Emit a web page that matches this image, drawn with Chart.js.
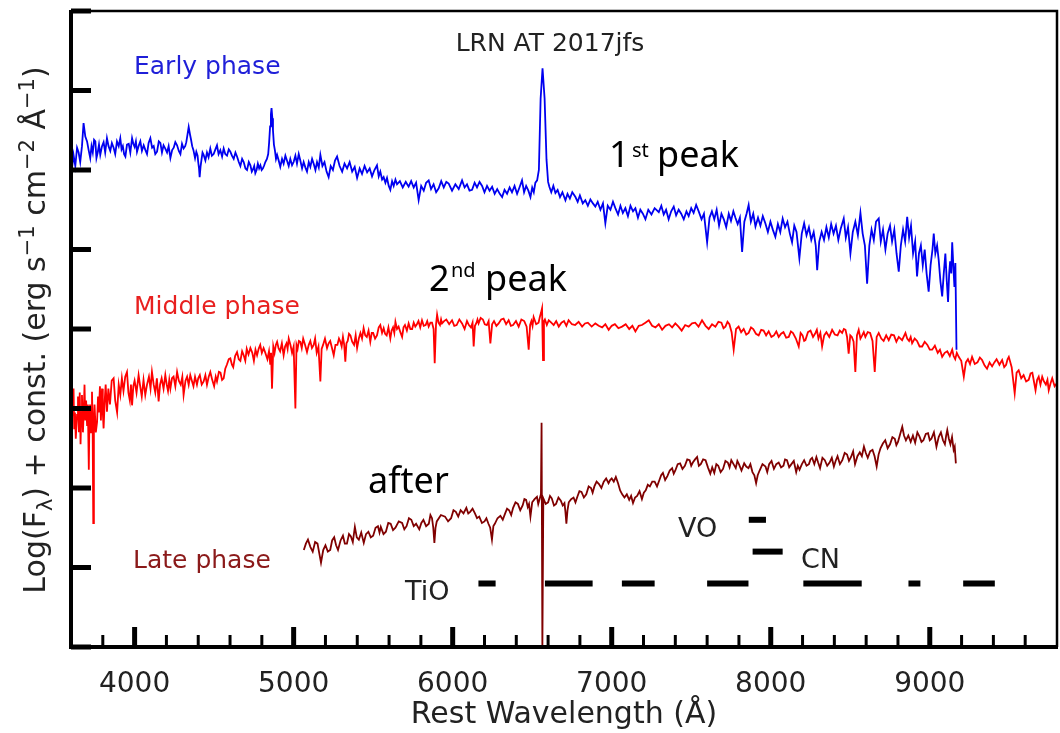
<!DOCTYPE html>
<html>
<head>
<meta charset="utf-8">
<script src="https://cdn.jsdelivr.net/npm/chart.js@4.4.1/dist/chart.umd.min.js"></script>
<style>
html,body{margin:0;padding:0;background:#fff;}
#wrap{width:1060px;height:733px;}
</style>
</head>
<body>
<div id="wrap"><canvas id="c" width="1060" height="733"></canvas></div>
<script>
// ---- data (wavelength in Å, log flux + const) ----
const earlySpectrum = [
[3600,6.15],[3608,6.05],[3616,6.19],[3627,6.05],[3638,6.28],[3648,6.22],[3658,6.10],[3669,6.30],[3679,6.59],[3690,6.42],[3701,6.36],
[3711,6.25],[3721,6.15],[3729,6.30],[3737,6.22],[3745,6.38],[3753,6.36],[3760,6.15],[3768,6.22],[3776,6.32],[3784,6.19],[3795,6.30],[3805,6.35],[3815,6.22],[3826,6.40],[3836,6.30],[3847,6.24],[3857,6.34],[3868,6.28],
[3878,6.20],[3889,6.36],[3900,6.30],[3910,6.40],[3918,6.26],[3926,6.30],[3934,6.20],[3942,6.17],[3952,6.32],[3963,6.33],[3973,6.22],[3984,6.40],[3992,6.33],[4000,6.29],[4008,6.36],[4015,6.23],[4025,6.30],[4036,6.36],[4046,6.24],[4057,6.31],
[4068,6.25],[4078,6.20],[4088,6.34],[4099,6.40],[4110,6.28],[4120,6.30],[4130,6.20],[4141,6.23],[4152,6.36],[4162,6.34],[4172,6.22],[4182,6.31],[4193,6.27],[4204,6.22],[4214,6.30],[4225,6.15],[4236,6.25],[4246,6.28],[4256,6.35],[4267,6.31],
[4278,6.24],[4288,6.20],[4298,6.33],[4308,6.27],[4318,6.30],[4325,6.35],[4333,6.45],[4340,6.54],[4348,6.45],[4355,6.38],[4362,6.30],[4370,6.25],[4380,6.15],[4388,6.23],[4396,6.18],[4400,6.10],[4405,6.02],[4409,5.91],[4415,6.05],[4420,6.12],
[4427,6.22],[4434,6.19],[4445,6.12],[4455,6.22],[4465,6.16],[4476,6.27],[4486,6.18],[4497,6.20],[4508,6.26],[4518,6.31],[4528,6.20],[4539,6.25],[4550,6.17],[4560,6.27],[4570,6.20],[4581,6.18],[4592,6.26],[4602,6.23],[4612,6.18],[4623,6.14],
[4634,6.22],[4644,6.17],[4655,6.10],[4665,6.05],[4676,6.14],[4686,6.10],[4697,6.02],[4707,6.00],[4718,6.10],[4728,6.06],[4737,5.98],[4745,6.01],[4752,6.05],[4759,5.96],[4767,6.00],[4775,6.08],[4783,6.02],[4791,6.06],[4799,6.00],[4807,6.02],
[4815,6.06],[4822,6.10],[4832,6.14],[4840,6.20],[4846,6.35],[4852,6.55],[4857,6.70],[4861,6.78],[4866,6.65],[4870,6.50],[4876,6.32],[4882,6.25],[4889,6.14],[4896,6.19],[4906,6.12],[4916,6.04],[4927,6.14],[4937,6.08],[4948,6.18],[4958,6.12],
[4969,6.05],[4979,6.14],[4990,6.06],[5000,6.10],[5011,6.18],[5021,6.08],[5032,6.20],[5042,6.12],[5053,6.02],[5063,6.10],[5074,6.03],[5084,5.98],[5095,6.10],[5105,6.04],[5116,6.14],[5126,6.08],[5137,6.00],[5147,6.10],[5158,6.03],[5168,6.19],
[5181,6.05],[5194,6.10],[5207,5.98],[5220,5.91],[5233,6.05],[5247,6.00],[5260,6.12],[5273,6.17],[5289,6.05],[5305,5.98],[5320,6.08],[5336,6.02],[5352,6.10],[5368,5.98],[5384,6.04],[5399,5.90],[5415,6.02],[5430,5.95],[5446,6.05],[5462,5.97],
[5478,6.02],[5493,5.92],[5508,6.00],[5524,6.06],[5535,5.92],[5545,5.98],[5556,5.88],[5566,5.91],[5577,5.84],[5587,5.90],[5598,5.80],[5608,5.75],[5619,5.86],[5629,5.80],[5640,5.88],[5650,5.82],[5668,5.86],[5686,5.78],[5705,5.85],[5723,5.79],
[5739,5.86],[5755,5.78],[5770,5.84],[5786,5.62],[5802,5.80],[5818,5.74],[5833,5.84],[5849,5.87],[5864,5.76],[5880,5.82],[5896,5.72],[5912,5.77],[5928,5.86],[5944,5.78],[5960,5.85],[5975,5.83],[5996,5.74],[6017,5.82],[6038,5.76],[6059,5.87],
[6075,5.78],[6090,5.82],[6106,5.74],[6122,5.75],[6138,5.84],[6153,5.78],[6169,5.85],[6185,5.80],[6200,5.72],[6216,5.80],[6232,5.74],[6248,5.79],[6264,5.70],[6280,5.76],[6296,5.70],[6311,5.66],[6326,5.75],[6342,5.70],[6358,5.78],[6373,5.72],
[6389,5.80],[6405,5.70],[6420,5.78],[6436,5.87],[6449,5.72],[6462,5.80],[6476,5.74],[6489,5.66],[6500,5.78],[6510,5.72],[6520,5.84],[6531,5.87],[6542,6.00],[6553,6.90],[6565,7.28],[6578,6.90],[6590,6.13],[6600,5.85],[6608,5.79],[6620,5.72],
[6633,5.80],[6646,5.71],[6660,5.75],[6675,5.66],[6690,5.72],[6709,5.62],[6722,5.70],[6737,5.64],[6752,5.72],[6772,5.66],[6786,5.60],[6800,5.68],[6818,5.58],[6834,5.62],[6850,5.55],[6866,5.63],[6882,5.58],[6897,5.54],[6912,5.60],[6929,5.50],
[6945,5.58],[6960,5.33],[6975,5.55],[6992,5.50],[7008,5.60],[7023,5.52],[7040,5.44],[7055,5.55],[7070,5.46],[7086,5.52],[7102,5.42],[7118,5.55],[7134,5.48],[7149,5.52],[7165,5.40],[7180,5.50],[7196,5.45],[7212,5.38],[7230,5.50],[7250,5.44],
[7270,5.52],[7296,5.47],[7312,5.55],[7327,5.44],[7342,5.50],[7358,5.38],[7374,5.48],[7390,5.54],[7405,5.43],[7421,5.50],[7437,5.45],[7453,5.38],[7470,5.48],[7484,5.42],[7500,5.52],[7515,5.46],[7531,5.56],[7547,5.48],[7565,5.38],[7580,5.45],
[7600,5.09],[7615,5.40],[7630,5.48],[7645,5.38],[7660,5.50],[7675,5.30],[7690,5.45],[7705,5.38],[7720,5.28],[7736,5.45],[7750,5.36],[7765,5.48],[7778,5.40],[7792,5.32],[7806,5.40],[7820,4.97],[7834,5.35],[7848,5.45],[7861,5.56],[7875,5.35],
[7890,5.45],[7904,5.29],[7920,5.40],[7935,5.30],[7950,5.42],[7966,5.33],[7982,5.22],[7998,5.35],[8013,5.25],[8029,5.16],[8045,5.32],[8060,5.22],[8075,5.39],[8090,5.28],[8105,5.35],[8120,5.20],[8134,5.09],[8148,5.30],[8162,5.22],[8180,4.89],
[8195,5.20],[8210,5.33],[8225,5.18],[8240,5.28],[8255,5.12],[8270,5.22],[8283,5.05],[8292,4.74],[8305,5.10],[8320,5.22],[8335,5.12],[8350,5.28],[8365,5.15],[8380,5.32],[8395,5.20],[8410,5.30],[8425,5.12],[8440,5.26],[8459,5.39],[8472,5.15],
[8486,5.28],[8501,4.95],[8516,5.22],[8532,5.35],[8548,5.18],[8564,5.46],[8578,5.20],[8592,5.05],[8606,4.57],[8620,5.05],[8634,5.25],[8648,5.12],[8662,5.35],[8679,5.39],[8692,5.10],[8706,5.25],[8721,5.00],[8735,5.20],[8750,5.30],[8763,5.10],
[8777,5.25],[8791,4.95],[8805,4.72],[8818,5.05],[8832,5.25],[8845,5.10],[8858,5.41],[8870,5.15],[8882,5.30],[8895,4.95],[8908,5.10],[8920,4.66],[8932,4.95],[8944,5.05],[8956,4.80],[8968,5.00],[8980,4.70],[8993,4.47],[9005,4.80],[9017,5.00],
[9025,5.20],[9035,4.95],[9046,5.05],[9056,4.87],[9067,4.60],[9078,4.41],[9088,4.70],[9098,4.95],[9107,4.60],[9115,4.34],[9122,4.70],[9128,4.85],[9135,4.70],[9141,5.09],[9148,4.80],[9155,4.53],[9161,4.83],[9168,3.74]
];

const middleSpectrum = [
[3600,3.10],[3605,2.80],[3610,3.05],[3616,3.25],[3620,2.75],[3625,2.95],[3630,2.62],[3638,2.92],[3644,3.15],[3650,2.70],[3655,3.20],[3660,2.55],[3665,2.95],[3669,3.17],[3675,2.70],[3680,2.95],
[3685,3.30],[3690,2.85],[3695,3.10],[3701,2.79],[3706,3.05],[3712,2.23],[3716,2.90],[3720,3.05],[3726,2.70],[3732,3.21],[3736,2.80],[3740,1.56],[3744,2.85],[3748,3.05],[3756,2.70],[3764,2.83],
[3770,3.15],[3775,2.95],[3782,3.28],[3788,2.85],[3795,3.25],[3800,2.95],[3805,2.75],[3812,3.10],[3818,3.30],[3826,2.96],[3835,3.25],[3845,3.05],[3856,3.35],[3868,3.38],[3878,3.10],[3890,2.95],
[3900,3.30],[3910,3.17],[3920,3.38],[3930,3.22],[3941,3.40],[3952,3.46],[3961,3.20],[3970,3.10],[3977,3.30],[3984,3.04],[3992,3.28],[4000,3.35],[4012,3.20],[4025,3.42],[4035,3.28],[4045,3.15],
[4056,3.36],[4067,3.17],[4078,3.30],[4090,3.40],[4100,3.25],[4109,3.46],[4120,3.30],[4130,3.20],[4140,3.38],[4151,3.09],[4160,3.30],[4170,3.38],[4182,3.25],[4193,3.42],[4202,3.30],[4210,3.22],
[4218,3.36],[4225,3.25],[4235,3.38],[4245,3.40],[4256,3.28],[4267,3.46],[4278,3.35],[4290,3.30],[4300,3.40],[4308,3.17],[4320,3.35],[4330,3.40],[4340,3.30],[4350,3.42],[4360,3.35],[4370,3.28],
[4380,3.40],[4392,3.30],[4400,3.38],[4410,3.42],[4422,3.30],[4434,3.34],[4445,3.42],[4455,3.30],[4466,3.40],[4476,3.46],[4488,3.36],[4500,3.28],[4510,3.40],[4518,3.34],[4530,3.46],[4540,3.45],
[4550,3.36],[4560,3.38],[4570,3.50],[4580,3.55],[4592,3.62],[4602,3.63],[4612,3.55],[4620,3.52],[4632,3.66],[4644,3.71],[4655,3.62],[4665,3.60],[4676,3.72],[4686,3.67],[4696,3.60],[4705,3.75],
[4716,3.68],[4728,3.76],[4740,3.70],[4750,3.60],[4760,3.74],[4770,3.67],[4780,3.75],[4790,3.80],[4800,3.70],[4811,3.76],[4822,3.70],[4835,3.62],[4845,3.72],[4853,3.55],[4858,3.70],[4864,3.25],
[4872,3.78],[4880,3.70],[4888,3.80],[4896,3.84],[4905,3.76],[4915,3.72],[4926,3.82],[4937,3.67],[4946,3.78],[4955,3.82],[4962,3.75],[4969,3.88],[4980,3.80],[4990,3.70],[5000,3.78],[5011,3.00],
[5018,3.80],[5025,3.75],[5033,3.85],[5042,3.84],[5051,3.76],[5060,3.88],[5072,3.80],[5084,3.71],[5095,3.80],[5105,3.85],[5115,3.76],[5126,3.80],[5135,3.88],[5145,3.70],[5156,3.78],[5168,3.34],
[5176,3.75],[5185,3.80],[5197,3.88],[5210,3.76],[5220,3.82],[5230,3.85],[5241,3.76],[5252,3.67],[5263,3.80],[5275,3.80],[5285,3.88],[5294,3.84],[5302,3.78],[5310,3.90],[5318,3.80],[5325,3.59],
[5332,3.82],[5340,3.85],[5348,3.94],[5357,3.92],[5368,3.84],[5380,3.80],[5390,3.92],[5399,3.76],[5410,3.88],[5420,3.95],[5430,3.88],[5440,4.01],[5450,3.92],[5460,3.90],[5471,3.98],[5482,3.84],
[5491,3.95],[5500,3.95],[5512,3.88],[5524,3.92],[5535,4.02],[5545,4.05],[5556,3.95],[5566,4.01],[5575,3.94],[5585,3.92],[5596,4.02],[5608,3.88],[5616,3.98],[5625,4.02],[5633,3.95],[5640,4.09],
[5650,4.00],[5660,4.03],[5671,3.96],[5682,3.90],[5691,4.02],[5700,4.05],[5712,3.98],[5723,4.07],[5734,4.00],[5745,4.00],[5755,4.08],[5765,4.03],[5775,4.06],[5785,4.10],[5796,4.02],[5807,4.11],
[5818,4.04],[5830,4.05],[5840,4.10],[5849,4.03],[5860,4.08],[5870,4.08],[5880,4.00],[5887,3.57],[5895,4.05],[5902,4.18],[5911,4.08],[5920,4.05],[5927,4.12],[5933,4.07],[5946,4.10],[5960,4.12],
[5978,4.06],[5996,4.11],[6010,4.04],[6025,4.05],[6042,4.12],[6059,4.07],[6075,4.00],[6090,4.10],[6102,4.05],[6115,4.02],[6125,4.08],[6132,3.78],[6140,4.04],[6150,4.08],[6156,4.12],[6163,4.07],
[6176,4.14],[6190,4.12],[6202,4.06],[6215,4.05],[6226,4.10],[6237,3.82],[6248,4.06],[6260,4.10],[6275,4.04],[6289,4.07],[6305,4.12],[6320,4.13],[6336,4.06],[6352,4.11],[6366,4.04],[6380,4.05],
[6398,4.10],[6415,4.03],[6432,4.12],[6450,4.10],[6465,4.03],[6478,3.74],[6487,4.05],[6495,4.10],[6502,4.04],[6509,4.15],[6525,4.06],[6540,4.08],[6548,4.15],[6555,4.20],[6562,4.26],[6568,3.61],
[6574,4.10],[6580,4.12],[6592,4.05],[6604,4.11],[6620,4.08],[6635,4.05],[6651,4.10],[6667,4.03],[6684,4.08],[6700,4.10],[6715,4.04],[6729,4.11],[6750,4.06],[6770,4.05],[6792,4.09],[6814,4.03],
[6832,4.07],[6850,4.08],[6874,4.03],[6897,4.07],[6918,4.04],[6940,4.02],[6960,4.06],[6981,3.99],[7000,4.04],[7020,4.06],[7042,4.01],[7065,4.03],[7088,4.06],[7110,4.00],[7130,4.04],[7149,3.97],
[7170,4.04],[7190,4.05],[7212,4.08],[7233,4.11],[7254,4.04],[7275,4.02],[7296,4.06],[7317,3.99],[7338,4.04],[7360,4.06],[7380,4.02],[7400,4.07],[7420,4.03],[7440,3.98],[7462,4.05],[7484,4.03],
[7505,4.07],[7525,4.08],[7546,4.03],[7568,4.11],[7590,4.04],[7610,4.00],[7631,4.06],[7652,4.03],[7671,4.09],[7690,4.08],[7703,4.01],[7715,4.03],[7728,4.09],[7740,4.06],[7754,3.96],[7767,3.74],
[7782,4.00],[7798,4.03],[7814,3.96],[7830,4.00],[7846,3.93],[7861,3.95],[7876,4.02],[7890,4.00],[7907,3.94],[7924,3.92],[7940,3.99],[7955,3.98],[7971,3.92],[7987,3.97],[8004,3.90],[8020,3.92],
[8035,3.97],[8050,3.90],[8065,3.94],[8080,3.96],[8097,3.89],[8113,3.90],[8127,3.97],[8140,3.95],[8158,3.88],[8176,3.78],[8188,3.95],[8200,3.92],[8210,3.85],[8218,3.86],[8234,3.96],[8250,3.98],
[8266,3.90],[8281,3.95],[8290,3.99],[8300,3.88],[8312,3.95],[8323,3.78],[8336,3.92],[8350,3.96],[8368,3.90],[8386,3.99],[8403,3.93],[8420,3.92],[8434,3.98],[8449,3.95],[8460,4.00],[8470,3.99],
[8480,3.90],[8490,3.69],[8500,3.92],[8510,3.90],[8521,3.84],[8532,3.46],[8542,3.92],[8553,3.99],[8564,3.88],[8575,3.92],[8585,3.96],[8595,3.90],[8610,3.96],[8625,3.95],[8640,3.85],[8654,3.46],
[8666,3.90],[8679,3.95],[8695,3.88],[8710,3.85],[8726,3.92],[8742,3.86],[8758,3.93],[8775,3.92],[8790,3.84],[8805,3.90],[8826,3.86],[8847,3.95],[8858,3.88],[8870,3.85],[8880,3.90],[8889,3.82],
[8905,3.88],[8920,3.85],[8936,3.78],[8952,3.78],[8968,3.84],[8985,3.80],[9000,3.74],[9015,3.74],[9032,3.79],[9050,3.70],[9064,3.74],[9078,3.65],[9094,3.70],[9110,3.72],[9126,3.66],[9141,3.74],
[9150,3.66],[9160,3.62],[9170,3.70],[9182,3.65],[9198,3.60],[9214,3.40],[9227,3.58],[9240,3.62],[9253,3.56],[9266,3.65],[9283,3.56],[9300,3.58],[9315,3.64],[9329,3.61],[9345,3.54],[9360,3.50],
[9376,3.58],[9392,3.53],[9406,3.58],[9420,3.62],[9438,3.55],[9455,3.61],[9468,3.52],[9480,3.55],[9489,3.62],[9497,3.65],[9515,3.52],[9534,3.19],[9546,3.45],[9559,3.48],[9575,3.38],[9590,3.42],
[9606,3.34],[9622,3.36],[9634,3.44],[9645,3.45],[9655,3.34],[9665,3.23],[9675,3.36],[9685,3.40],[9696,3.30],[9707,3.40],[9718,3.34],[9730,3.30],[9740,3.36],[9748,3.23],[9760,3.32],[9770,3.38],
[9785,3.28],[9800,3.32]
];

const lateSpectrum = [
[5064,1.22],[5077,1.30],[5090,1.35],[5105,1.26],[5120,1.20],[5135,1.32],[5150,1.30],[5161,1.18],[5172,1.06],[5186,1.22],[5200,1.28],[5215,1.20],[5230,1.22],[5242,1.34],[5255,1.38],[5267,1.28],
[5279,1.22],[5295,1.34],[5310,1.40],[5322,1.30],[5335,1.30],[5348,1.42],[5360,1.39],[5372,1.32],[5385,1.51],[5397,1.38],[5410,1.35],[5425,1.44],[5441,1.31],[5455,1.42],[5470,1.45],[5485,1.38],
[5500,1.40],[5515,1.50],[5530,1.52],[5540,1.44],[5548,1.51],[5565,1.42],[5580,1.45],[5595,1.56],[5610,1.55],[5625,1.47],[5640,1.50],[5661,1.58],[5682,1.56],[5696,1.48],[5710,1.52],[5725,1.62],
[5740,1.60],[5755,1.52],[5770,1.55],[5790,1.48],[5803,1.56],[5816,1.60],[5833,1.52],[5850,1.55],[5860,1.66],[5870,1.62],[5878,1.50],[5885,1.31],[5892,1.50],[5900,1.58],[5926,1.66],[5952,1.64],
[5971,1.58],[5990,1.62],[6005,1.72],[6020,1.70],[6035,1.64],[6050,1.72],[6068,1.68],[6086,1.75],[6098,1.68],[6110,1.70],[6125,1.74],[6140,1.68],[6153,1.62],[6167,1.64],[6184,1.56],[6200,1.58],
[6212,1.62],[6225,1.55],[6236,1.50],[6247,1.35],[6256,1.52],[6265,1.55],[6282,1.62],[6300,1.65],[6315,1.60],[6330,1.68],[6342,1.74],[6355,1.72],[6368,1.66],[6380,1.75],[6395,1.82],[6410,1.80],
[6425,1.72],[6440,1.78],[6451,1.86],[6462,1.85],[6472,1.76],[6480,1.80],[6489,1.64],[6500,1.82],[6515,1.86],[6530,1.89],[6538,1.80],[6545,1.85],[6555,1.92],[6559,2.82],[6564,-0.05],[6570,1.87],
[6585,1.80],[6600,1.82],[6612,1.90],[6623,1.87],[6637,1.78],[6650,1.80],[6665,1.88],[6680,1.84],[6692,1.78],[6703,1.81],[6709,1.70],[6715,1.55],[6722,1.72],[6730,1.82],[6745,1.86],[6760,1.88],
[6772,1.82],[6784,1.89],[6797,1.96],[6810,1.95],[6825,1.88],[6840,1.92],[6855,2.02],[6870,2.00],[6880,1.94],[6891,2.02],[6905,2.08],[6920,2.05],[6935,2.00],[6950,2.08],[6965,2.12],[6980,2.06],
[6990,2.10],[7000,2.12],[7013,2.08],[7026,2.14],[7040,2.06],[7053,1.97],[7066,1.92],[7080,1.88],[7095,1.92],[7110,1.85],[7122,1.90],[7134,1.81],[7147,1.88],[7160,1.90],[7175,1.96],[7190,1.86],
[7202,1.94],[7214,1.97],[7227,2.04],[7240,2.02],[7255,2.08],[7270,2.08],[7285,2.02],[7300,2.10],[7311,2.16],[7322,2.19],[7336,2.10],[7350,2.15],[7365,2.22],[7380,2.25],[7390,2.18],[7400,2.22],
[7415,2.30],[7430,2.31],[7445,2.24],[7460,2.28],[7475,2.36],[7490,2.35],[7500,2.28],[7510,2.32],[7524,2.36],[7537,2.39],[7548,2.28],[7560,2.30],[7575,2.36],[7590,2.35],[7605,2.26],[7620,2.18],
[7632,2.26],[7645,2.19],[7658,2.30],[7670,2.28],[7685,2.20],[7700,2.24],[7715,2.34],[7730,2.32],[7741,2.26],[7752,2.35],[7766,2.30],[7780,2.25],[7790,2.34],[7800,2.30],[7816,2.22],[7833,2.31],
[7846,2.27],[7860,2.25],[7872,2.30],[7885,2.20],[7897,2.16],[7908,2.06],[7918,2.16],[7930,2.22],[7948,2.30],[7967,2.27],[7978,2.20],[7990,2.30],[8005,2.34],[8020,2.24],[8035,2.30],[8050,2.32],
[8065,2.26],[8080,2.28],[8090,2.36],[8102,2.35],[8116,2.26],[8130,2.30],[8145,2.34],[8160,2.20],[8170,2.28],[8181,2.23],[8196,2.30],[8210,2.35],[8225,2.28],[8240,2.30],[8250,2.36],[8260,2.38],
[8274,2.30],[8287,2.39],[8298,2.32],[8310,2.25],[8325,2.38],[8340,2.35],[8355,2.28],[8370,2.32],[8384,2.38],[8397,2.27],[8408,2.34],[8420,2.40],[8435,2.30],[8450,2.35],[8465,2.44],[8480,2.42],
[8492,2.34],[8505,2.39],[8518,2.46],[8530,2.30],[8545,2.40],[8560,2.45],[8573,2.40],[8586,2.52],[8598,2.44],[8610,2.38],[8625,2.46],[8640,2.48],[8653,2.40],[8666,2.27],[8678,2.42],[8690,2.50],
[8705,2.56],[8720,2.60],[8735,2.50],[8750,2.55],[8765,2.64],[8780,2.62],[8790,2.54],[8800,2.58],[8814,2.68],[8827,2.77],[8838,2.66],[8850,2.60],[8865,2.66],[8880,2.58],[8894,2.66],[8908,2.57],
[8922,2.70],[8935,2.65],[8948,2.58],[8960,2.60],[8975,2.68],[8989,2.69],[9000,2.60],[9010,2.62],[9026,2.70],[9042,2.52],[9056,2.64],[9070,2.70],[9083,2.60],[9095,2.55],[9103,2.66],[9110,2.73],
[9120,2.62],[9130,2.55],[9140,2.64],[9150,2.48],[9157,2.52],[9164,2.31]
];

// molecular band markers [start, end] in Å and their vertical level
const tioBands = [[6162,6270],[6580,6880],[7064,7270],[7600,7860],[8205,8572],[8866,8941],[9210,9409]];
const voBands = [[7862,7970]];
const cnBands = [[7886,8075]];
const tioLevel = 0.80;
const voLevel = 1.60;
const cnLevel = 1.20;

// axis ticks
const xTickLabels = [4000,5000,6000,7000,8000,9000];
const xMinorTicks = [3800,4200,4400,4600,4800,5200,5400,5600,5800,6200,6400,6600,6800,7200,7400,7600,7800,8200,8400,8600,8800,9200,9400,9600];
const yTickValues = [0,1,2,3,4,5,6,7,8];

// ---- build datasets ----
const toXY = arr => arr.map(p => ({x:p[0], y:p[1]}));
function bandData(bands, level){
  const out = [];
  bands.forEach(b => { out.push({x:b[0], y:level}); out.push({x:b[1], y:level}); out.push({x:b[1], y:null}); });
  return out;
}

const AX = '#222';

const decorPlugin = {
  id:'decor',
  afterDatasetsDraw(chart){
    const ctx = chart.ctx, a = chart.chartArea, xs = chart.scales.x, ys = chart.scales.y;
    ctx.save();
    ctx.strokeStyle = '#000';
    ctx.lineCap = 'butt';
    // y major ticks (inward)
    ctx.lineWidth = 5;
    yTickValues.forEach(v => {
      const y = ys.getPixelForValue(v);
      ctx.beginPath(); ctx.moveTo(a.left, y); ctx.lineTo(a.left + 20, y); ctx.stroke();
    });
    // x major ticks
    xTickLabels.forEach(v => {
      const x = xs.getPixelForValue(v);
      ctx.beginPath(); ctx.moveTo(x, a.bottom); ctx.lineTo(x, a.bottom - 20); ctx.stroke();
    });
    // x minor ticks
    ctx.lineWidth = 3;
    xMinorTicks.forEach(v => {
      const x = xs.getPixelForValue(v);
      ctx.beginPath(); ctx.moveTo(x, a.bottom); ctx.lineTo(x, a.bottom - 12); ctx.stroke();
    });
    // frame
    ctx.lineWidth = 2.5;
    ctx.beginPath(); ctx.moveTo(a.left, a.top); ctx.lineTo(a.right, a.top); ctx.lineTo(a.right, a.bottom); ctx.stroke();
    ctx.lineWidth = 4;
    ctx.beginPath(); ctx.moveTo(a.left, a.top - 1); ctx.lineTo(a.left, a.bottom); ctx.lineTo(a.right + 1, a.bottom); ctx.stroke();

    // texts
    ctx.textBaseline = 'alphabetic';
    ctx.textAlign = 'center';
    ctx.fillStyle = AX;
    ctx.font = '25px "DejaVu Sans"';
    ctx.fillText('LRN AT 2017jfs', 550, 51);

    ctx.textAlign = 'left';
    ctx.fillStyle = '#1f1fd8';
    ctx.font = '25px "DejaVu Sans"';
    ctx.fillText('Early phase', 134, 74);
    ctx.fillStyle = '#e8201f';
    ctx.fillText('Middle phase', 134, 314);
    ctx.fillStyle = '#8b1a1a';
    ctx.fillText('Late phase', 133, 568);

    ctx.fillStyle = AX;
    ctx.font = '27px "DejaVu Sans"';
    ctx.fillText('TiO', 405, 600);
    ctx.fillText('VO', 678, 537);
    ctx.fillText('CN', 801, 568);

    ctx.fillStyle = '#000';
    ctx.font = '36px "Noto Sans"';
    ctx.fillText('1', 609, 167);
    ctx.fillText('peak', 657, 167);
    ctx.fillText('2', 429, 291);
    ctx.fillText('peak', 485, 291);
    ctx.fillText('after', 368, 493);
    ctx.font = '20px "Noto Sans"';
    ctx.fillText('st', 632, 157);
    ctx.fillText('nd', 451, 277);

    // y-axis title with sub/superscripts
    const F = 30;
    const parts = [
      {t:'Log(F', s:1, dy:0},
      {t:'\u03bb', s:0.7, dy:0.22},
      {t:') + const. (erg s', s:1, dy:0},
      {t:'\u22121', s:0.7, dy:-0.38},
      {t:' cm', s:1, dy:0},
      {t:'\u22122', s:0.7, dy:-0.38},
      {t:' \u00c5', s:1, dy:0},
      {t:'\u22121', s:0.7, dy:-0.38},
      {t:')', s:1, dy:0}
    ];
    let total = 0;
    parts.forEach(p => { ctx.font = (F*p.s) + 'px "DejaVu Sans"'; p.w = ctx.measureText(p.t).width; total += p.w; });
    ctx.translate(45, 330);
    ctx.rotate(-Math.PI/2);
    ctx.fillStyle = AX;
    let cx = -total/2;
    parts.forEach(p => { ctx.font = (F*p.s) + 'px "DejaVu Sans"'; ctx.fillText(p.t, cx, p.dy*F); cx += p.w; });
    ctx.restore();
  }
};

new Chart(document.getElementById('c'), {
  type:'line',
  data:{
    datasets:[
      {label:'Early phase', data:toXY(earlySpectrum), borderColor:'#0000f0', borderWidth:1.8, pointRadius:0, tension:0},
      {label:'Middle phase', data:toXY(middleSpectrum), borderColor:'#ff0000', borderWidth:1.8, pointRadius:0, tension:0},
      {label:'Late phase', data:toXY(lateSpectrum), borderColor:'#800000', borderWidth:1.8, pointRadius:0, tension:0},
      {label:'TiO', data:bandData(tioBands, tioLevel), borderColor:'#000', borderWidth:6, pointRadius:0, borderCapStyle:'butt', spanGaps:false},
      {label:'VO', data:bandData(voBands, voLevel), borderColor:'#000', borderWidth:6, pointRadius:0, borderCapStyle:'butt', spanGaps:false},
      {label:'CN', data:bandData(cnBands, cnLevel), borderColor:'#000', borderWidth:6, pointRadius:0, borderCapStyle:'butt', spanGaps:false}
    ]
  },
  options:{
    responsive:false,
    animation:false,
    devicePixelRatio:1,
    layout:{padding:{top:11, right:3, left:0, bottom:0}},
    plugins:{legend:{display:false}, tooltip:{enabled:false}},
    scales:{
      x:{
        type:'linear', min:3600, max:9800,
        afterBuildTicks(s){ s.ticks = xTickLabels.map(v => ({value:v})); },
        ticks:{autoSkip:false, maxRotation:0, padding:21, color:AX,
               font:{family:'DejaVu Sans', size:28},
               callback:(v)=> String(Math.round(v))},
        grid:{display:false, drawTicks:false},
        border:{display:false},
        title:{display:true, text:'Rest Wavelength (\u00c5)', color:AX, font:{family:'DejaVu Sans', size:30}, padding:{top:0, bottom:0}},
        afterFit(s){ s.height = 86; }
      },
      y:{
        min:0, max:8,
        afterBuildTicks(s){ s.ticks = yTickValues.map(v => ({value:v})); },
        ticks:{display:false},
        grid:{display:false, drawTicks:false},
        border:{display:false},
        afterFit(s){ s.width = 71; }
      }
    }
  },
  plugins:[decorPlugin]
});
</script>
</body>
</html>
